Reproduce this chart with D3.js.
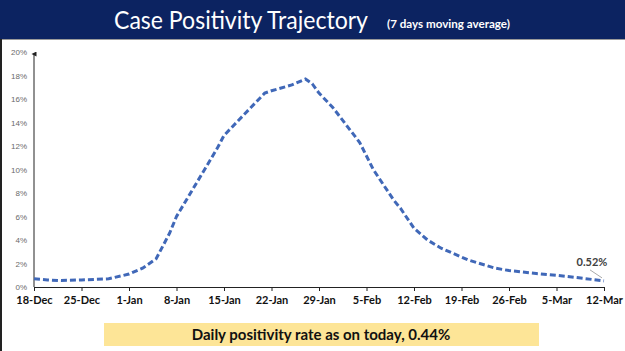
<!DOCTYPE html>
<html>
<head>
<meta charset="utf-8">
<script src="https://d3js.org/d3.v7.min.js"></script>
<style>
  body { margin: 0; background: #fff; }
  svg { display: block; }
</style>
</head>
<body>
<div id="chart"></div>
<script>
// tick labels (weekly) and the 7-day moving average
const tickLabels = ["18-Dec", "25-Dec", "1-Jan", "8-Jan", "15-Jan", "22-Jan", "29-Jan",
                    "5-Feb", "12-Feb", "19-Feb", "26-Feb", "5-Mar", "12-Mar"];
const yTicks = [0, 2, 4, 6, 8, 10, 12, 14, 16, 18, 20];

// day offset from 18-Dec
const days = [0, 2, 4, 7, 9, 11, 14, 16, 18, 20, 21, 24, 27, 28, 31, 34, 35, 38, 40, 41, 42,
              44, 46, 48, 50, 53, 54, 56, 58, 60, 64, 68, 70, 74, 77, 80, 84];
// positivity, %
const positivity = [0.7, 0.6, 0.55, 0.6, 0.65, 0.7, 1.1, 1.6, 2.4, 4.6, 6.0, 8.9, 11.8, 12.9, 14.7, 16.5,
                    16.7, 17.2, 17.7, 17.3, 16.5, 15.3, 13.8, 12.3, 10.0, 7.4, 6.7, 5.0, 4.0, 3.3,
                    2.3, 1.6, 1.4, 1.15, 1.0, 0.8, 0.52];

const lastLabel = "0.52%";
const footerText = "Daily positivity rate as on today, 0.44%";

const W = 625, H = 351;
const svg = d3.select("#chart").append("svg")
    .attr("width", W)
    .attr("height", H);

// header band
svg.append("rect").attr("x", 0).attr("y", 0).attr("width", W).attr("height", 39)
    .attr("fill", "#0c2361");
svg.append("line").attr("x1", 0).attr("x2", W).attr("y1", 39.5).attr("y2", 39.5)
    .attr("stroke", "#9a9a9a").attr("stroke-width", 1);
svg.append("line").attr("x1", 1).attr("x2", 1).attr("y1", 39).attr("y2", H)
    .attr("stroke", "#222").attr("stroke-width", 2);

svg.append("text")
    .attr("x", 114)
    .attr("y", 29)
    .attr("fill", "#fff")
    .style("font-family", "Lato, 'Open Sans', sans-serif")
    .style("font-size", "25px")
    .attr("textLength", 254)
    .attr("lengthAdjust", "spacingAndGlyphs")
    .text("Case Positivity Trajectory");
svg.append("text")
    .attr("x", 387)
    .attr("y", 28)
    .attr("fill", "#fff")
    .style("font-family", "Lato, 'Open Sans', sans-serif")
    .style("font-size", "11.5px")
    .style("font-weight", "bold")
    .attr("textLength", 123)
    .attr("lengthAdjust", "spacingAndGlyphs")
    .text("(7 days moving average)");

// scales
const x = d3.scaleLinear().domain([0, 84]).range([34, 604]);
const y = d3.scaleLinear().domain([0, 20]).range([287, 52]);

// y axis with arrow
const defs = svg.append("defs");
defs.append("marker")
    .attr("id", "arrow")
    .attr("viewBox", "0 0 10 10")
    .attr("refX", 5).attr("refY", 5)
    .attr("markerWidth", 5).attr("markerHeight", 6)
    .attr("orient", "auto")
    .append("path")
    .attr("d", "M0,10 L5,0 L10,10 Z")
    .attr("fill", "#222");

svg.append("line")
    .attr("x1", x(0)).attr("x2", x(0))
    .attr("y1", y(0)).attr("y2", y(20) + 2)
    .attr("stroke", "#222").attr("stroke-width", 1)
    .attr("marker-end", "url(#arrow)");

svg.append("g")
    .selectAll("text")
    .data(yTicks)
    .enter()
    .append("text")
    .attr("x", 27)
    .attr("y", d => y(d) + 3)
    .attr("text-anchor", "end")
    .style("font-family", "'Liberation Sans', Arial, sans-serif")
    .style("font-size", "8px")
    .attr("fill", "#6a6a6a")
    .text(d => d + "%");

// x axis
const xAxis = d3.axisBottom(x)
    .tickValues(d3.range(0, 85, 7))
    .tickSize(4)
    .tickSizeOuter(0)
    .tickFormat((d, i) => tickLabels[i]);

const gx = svg.append("g")
    .attr("transform", `translate(0, ${y(0)})`)
    .call(xAxis);
gx.select(".domain").attr("stroke", "#222");
gx.selectAll(".tick line").attr("stroke", "#222");
gx.selectAll(".tick text")
    .attr("dy", "0.71em")
    .attr("y", 9)
    .style("font-family", "Lato, 'Open Sans', sans-serif")
    .style("font-weight", "bold")
    .style("font-size", "11px")
    .attr("fill", "#111");

// trajectory line
const pts = days.map((d, i) => ({ day: d, v: positivity[i] }));
const line = d3.line()
    .x(d => x(d.day))
    .y(d => y(d.v));

svg.append("path")
    .datum(pts)
    .attr("d", line)
    .attr("fill", "none")
    .attr("stroke", "#4068b8")
    .attr("stroke-width", 3)
    .attr("stroke-dasharray", "6,3");

// last value annotation
const last = pts[pts.length - 1];
svg.append("line")
    .attr("x1", x(last.day) - 14).attr("y1", y(last.v) - 11)
    .attr("x2", x(last.day) - 2).attr("y2", y(last.v) - 3)
    .attr("stroke", "#aaa").attr("stroke-width", 1);
svg.append("text")
    .attr("x", x(last.day) - 12)
    .attr("y", y(last.v) - 15)
    .attr("text-anchor", "middle")
    .style("font-family", "Lato, 'Open Sans', sans-serif")
    .style("font-weight", "bold")
    .style("font-size", "11px")
    .attr("fill", "#404040")
    .text(lastLabel);

// footer box
svg.append("rect")
    .attr("x", 104).attr("y", 323)
    .attr("width", 435).attr("height", 23)
    .attr("fill", "#fde597");
svg.append("text")
    .attr("x", 321)
    .attr("y", 339.5)
    .attr("text-anchor", "middle")
    .style("font-family", "Lato, 'Open Sans', sans-serif")
    .style("font-weight", "bold")
    .style("font-size", "15px")
    .attr("fill", "#111")
    .text(footerText);
</script>
</body>
</html>
